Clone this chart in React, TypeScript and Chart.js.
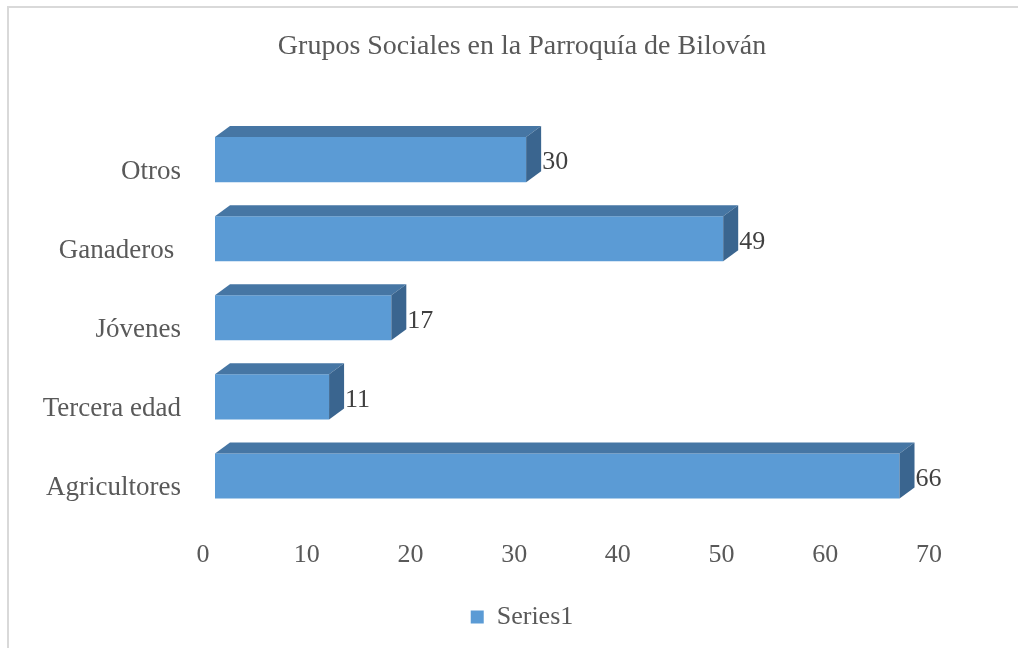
import React, { useEffect, useRef } from "react";
import { Chart, registerables } from "chart.js";

Chart.register(...registerables);

const chartTitle = "Grupos Sociales en la Parroquía de Bilován";
const categories = ["Otros", "Ganaderos ", "Jóvenes", "Tercera edad", "Agricultores"];
const seriesName = "Series1";
const seriesValues = [30, 49, 17, 11, 66];
const xMin = 0;
const xMax = 70;
const xStep = 10;

const FONT = "'Liberation Serif', 'Times New Roman', serif";
const FRONT = "#5B9BD5";
const TOP = "#4676A4";
const SIDE = "#3A658F";
const DX = 15;
const DY = -11;

const bar3dPlugin = {
  id: "bar3d",
  beforeDraw(chart: any) {
    const ctx = chart.ctx;
    ctx.save();
    ctx.fillStyle = "#ffffff";
    ctx.fillRect(0, 0, chart.width, chart.height);
    ctx.fillStyle = "#d9d9d9";
    ctx.fillRect(7, 6, chart.width - 7, 2);
    ctx.fillRect(7, 6, 2, chart.height - 6);
    ctx.restore();
  },
  afterDatasetsDraw(chart: any) {
    const ctx = chart.ctx;
    const meta = chart.getDatasetMeta(0);
    ctx.save();
    meta.data.forEach((el: any) => {
      const p = el.getProps(["x", "y", "base", "height"], true);
      const top = p.y - p.height / 2;
      const bottom = p.y + p.height / 2;
      const left = p.base;
      const right = p.x;
      ctx.fillStyle = TOP;
      ctx.beginPath();
      ctx.moveTo(left, top);
      ctx.lineTo(left + DX, top + DY);
      ctx.lineTo(right + DX, top + DY);
      ctx.lineTo(right, top);
      ctx.closePath();
      ctx.fill();
      ctx.fillStyle = SIDE;
      ctx.beginPath();
      ctx.moveTo(right, top);
      ctx.lineTo(right + DX, top + DY);
      ctx.lineTo(right + DX, bottom + DY);
      ctx.lineTo(right, bottom);
      ctx.closePath();
      ctx.fill();
    });
    ctx.restore();
  },
  afterDraw(chart: any) {
    const ctx = chart.ctx;
    const meta = chart.getDatasetMeta(0);
    ctx.save();
    ctx.font = `26px ${FONT}`;
    ctx.fillStyle = "#404040";
    ctx.textAlign = "left";
    ctx.textBaseline = "middle";
    meta.data.forEach((el: any, i: number) => {
      const p = el.getProps(["x", "y"], true);
      ctx.fillText(String(seriesValues[i]), p.x + DX + 1, p.y + 3);
    });
    ctx.restore();
  },
};

export default function App() {
  const ref = useRef<HTMLCanvasElement | null>(null);
  useEffect(() => {
    if (!ref.current) return;
    const chart = new Chart(ref.current, {
      type: "bar",
      data: {
        labels: categories,
        datasets: [
          {
            label: seriesName,
            data: seriesValues,
            backgroundColor: FRONT,
            borderWidth: 0,
            categoryPercentage: 1,
            barPercentage: 0.57,
          },
        ],
      },
      options: {
        indexAxis: "y",
        animation: false,
        responsive: false,
        layout: { padding: { left: 26, right: 0, top: 0, bottom: 8 } },
        scales: {
          x: {
            min: xMin,
            max: xMax,
            grid: { display: false, drawTicks: false },
            border: { display: false },
            ticks: {
              stepSize: xStep,
              padding: 24,
              labelOffset: -12,
              color: "#595959",
              font: { family: FONT, size: 26 },
            },
            afterFit: (s: any) => {
              s.height = 78.5;
            },
          },
          y: {
            grid: { display: false, drawTicks: false },
            border: { display: false },
            ticks: {
              padding: 34,
              labelOffset: 12,
              color: "#595959",
              font: { family: FONT, size: 27 },
            },
            afterFit: (s: any) => {
              s.width = 189;
            },
          },
          yRight: {
            type: "category",
            position: "right",
            display: true,
            grid: { display: false, drawTicks: false },
            border: { display: false },
            ticks: { display: false },
            afterFit: (s: any) => {
              s.width = 77;
            },
          },
        },
        plugins: {
          title: {
            display: true,
            text: chartTitle,
            color: "#595959",
            font: { family: FONT, size: 28, weight: "normal" },
            padding: { top: 30, bottom: 56.5 },
          },
          legend: {
            display: true,
            position: "bottom",
            labels: {
              color: "#595959",
              font: { family: FONT, size: 26 },
              boxWidth: 13,
              boxHeight: 13,
              padding: 10,
            },
          },
          tooltip: { enabled: false },
        },
      },
      plugins: [bar3dPlugin],
    } as any);
    return () => chart.destroy();
  }, []);
  return (
    <div style={{ position: "fixed", left: 0, top: 0, width: 1018, height: 648 }}>
      <canvas ref={ref} width={1018} height={648} />
    </div>
  );
}
